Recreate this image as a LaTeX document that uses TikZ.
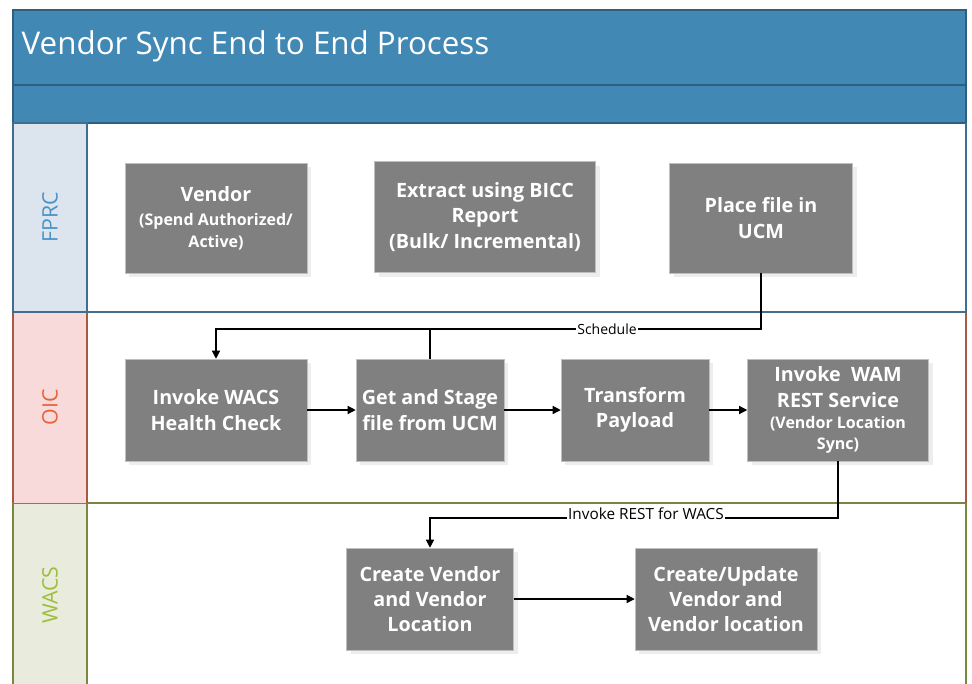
\documentclass[tikz,border=0pt]{standalone}
\usepackage{fontspec}
\setmainfont{Open Sans}
\usetikzlibrary{arrows.meta,shadows}

\definecolor{hdrblue}{HTML}{4189B4}
\definecolor{hdrline}{HTML}{2F5F80}
\definecolor{fprcfill}{HTML}{DCE4EE}
\definecolor{fprcline}{HTML}{3F6E8E}
\definecolor{fprctext}{HTML}{4A92C8}
\definecolor{oicfill}{HTML}{F8DADA}
\definecolor{oicline}{HTML}{A65A44}
\definecolor{oictext}{HTML}{E5643C}
\definecolor{wacsfill}{HTML}{E9EBDC}
\definecolor{wacsline}{HTML}{78883E}
\definecolor{wacstext}{HTML}{9DBE3C}
\definecolor{taskgray}{HTML}{808080}

\newcommand\subtxt[1]{{\fontsize{12}{15}\selectfont #1}}

\begin{document}
\begin{tikzpicture}[x=0.75pt,y=-0.75pt,
  task/.style={draw=black!25,fill=taskgray,text=white,align=center,inner sep=0pt,
    font=\bfseries\fontsize{14.8}{19}\selectfont,
    general shadow={fill=black!7,shadow xshift=3pt,shadow yshift=-3pt}},
  size/.style 2 args={minimum width=#1*0.75pt,minimum height=#2*0.75pt},
  flow/.style={line width=0.9pt,-{Triangle[length=6pt,width=6pt]}},
  link/.style={line width=0.9pt},
  lbl/.style={fill=white,inner sep=1pt,font=\fontsize{10.5}{12}\selectfont},
  lane/.style={font=\fontsize{16}{18}\selectfont,rotate=90}]
\useasboundingbox (0,0) rectangle (972,683);

% title band
\fill[hdrblue] (13,10) rectangle (966,123);
\draw[hdrline,line width=1pt] (13,10) rectangle (966,85);
\draw[hdrline,line width=1pt] (13,85) rectangle (966,123);
\node[anchor=west,text=white,font=\fontsize{23.5}{26}\selectfont] (title) at (17,46) {Vendor Sync End to End Process};

% swim lanes
\filldraw[fill=wacsfill,draw=wacsline,line width=1.1pt] (13,690) -- (13,503) -- (87,503) -- (87,690);
\draw[wacsline,line width=1.1pt] (87,503) -- (966,503) -- (966,690);
\filldraw[fill=oicfill,draw=oicline,line width=1.1pt] (13,503) -- (13,312) -- (87,312) -- (87,503);
\draw[oicline,line width=1.1pt] (966,312) -- (966,503);
\filldraw[fill=fprcfill,draw=fprcline,line width=1.1pt] (13,123) rectangle (87,312);
\draw[fprcline,line width=1.1pt] (87,312) -- (966,312) -- (966,123);

\node[lane,text=fprctext] (fprc) at (50,217) {FPRC};
\node[lane,text=oictext] (oic) at (50,407) {OIC};
\node[lane,text=wacstext] (wacs) at (50,595) {WACS};

% FPRC
\node[task,size={182}{110}] (vend) at (216,218) {Vendor\\[-1pt]\subtxt{(Spend Authorized/}\\[-2.5pt]\subtxt{Active)}};
\node[task,size={221}{111}] (bicc) at (485,217) {Extract using BICC\\Report\\(Bulk/ Incremental)};
\node[task,size={183}{110}] (ucm) at (761,218) {Place file in\\UCM};

% OIC
\node[task,size={182}{102}] (hlth) at (216,410) {Invoke WACS\\Health Check};
\node[task,size={148}{102}] (stage) at (430,410) {Get and Stage\\file from UCM};
\node[task,size={148}{102}] (trans) at (635,410) {Transform\\Payload};
\node[task,size={181}{102}] (wam) at (838,410) {Invoke~ WAM\\REST Service\\[-3pt]\subtxt{(Vendor Location}\\[-3.5pt]\subtxt{Sync)}};

% WACS
\node[task,size={167}{102}] (crt) at (430,599) {Create Vendor\\and Vendor\\Location};
\node[task,size={182}{102}] (upd) at (726,599) {Create/Update\\Vendor and\\Vendor location};

% connectors
\coordinate (schedY) at (0,329);
\coordinate (restY) at (0,518);
\draw[flow] (ucm.south) -- (ucm.south |- schedY) -| (hlth.north);
\draw[link] (stage.north) -- (stage.north |- schedY);
\node[lbl] (sched) at (607,329) {Schedule};
\draw[flow] (hlth) -- (stage);
\draw[flow] (stage) -- (trans);
\draw[flow] (trans) -- (wam);
\draw[flow] (wam.south) -- (wam.south |- restY) -| (crt.north);
\node[lbl,anchor=base,font=\fontsize{11.5}{13}\selectfont] (rest) at (646,519) {Invoke REST for WACS};
\draw[flow] (crt) -- (upd);
\end{tikzpicture}
\end{document}
